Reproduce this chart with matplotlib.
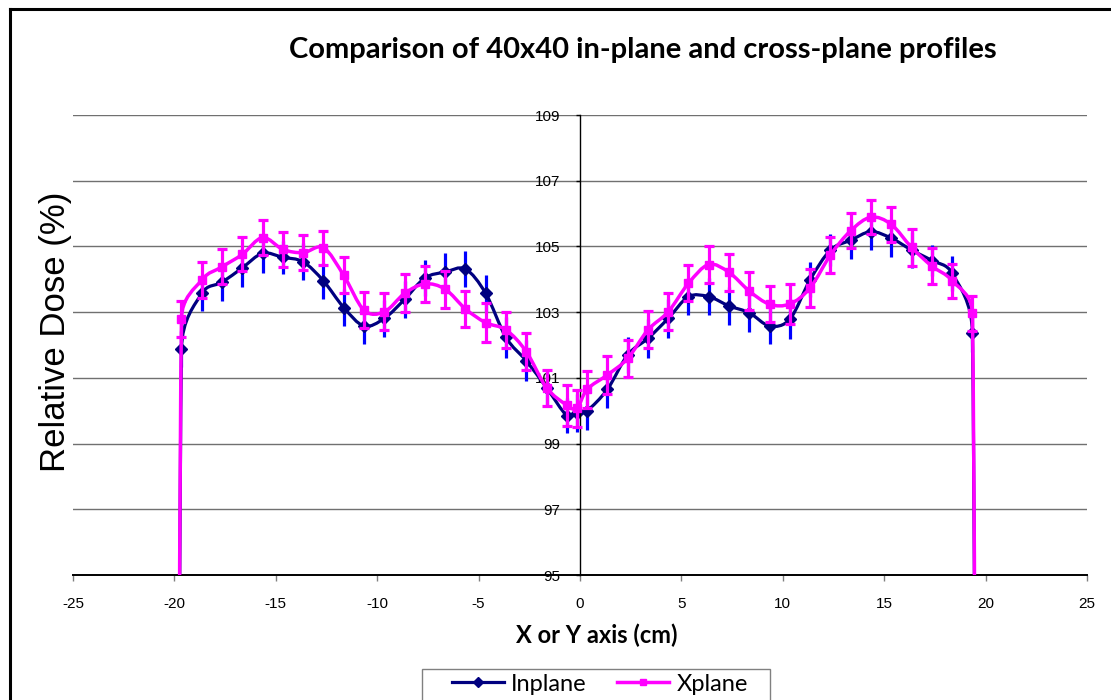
import numpy as np
import matplotlib
matplotlib.use("Agg")
import matplotlib.pyplot as plt
from matplotlib.path import Path
from matplotlib.patches import PathPatch, Rectangle
from matplotlib.lines import Line2D

# positions along the profile (cm)
positions = [-19.65, -18.65, -17.65, -16.65, -15.65, -14.65, -13.65, -12.65, -11.65, -10.65,
             -9.65, -8.65, -7.65, -6.65, -5.65, -4.65, -3.65, -2.65, -1.65, -0.65,
             -0.15,
             0.35, 1.35, 2.35, 3.35, 4.35, 5.35, 6.35, 7.35, 8.35, 9.35,
             10.35, 11.35, 12.35, 13.35, 14.35, 15.35, 16.35, 17.35, 18.35, 19.35]

inplane = [101.88, 103.57, 103.91, 104.35, 104.79, 104.67, 104.53, 103.95, 103.14, 102.58,
           102.81, 103.39, 104.04, 104.22, 104.31, 103.57, 102.23, 101.52, 100.70, 99.85,
           99.92,
           100.00, 100.65, 101.70, 102.20, 102.81, 103.47, 103.47, 103.19, 102.98, 102.58,
           102.79, 103.99, 104.89, 105.19, 105.45, 105.25, 104.89, 104.57, 104.18, 102.36]

xplane = [102.79, 103.98, 104.38, 104.76, 105.27, 104.91, 104.81, 104.96, 104.12, 103.06,
          103.01, 103.57, 103.86, 103.70, 103.10, 102.68, 102.46, 101.80, 100.70, 100.17,
          100.07,
          100.65, 101.09, 101.59, 102.46, 103.01, 103.88, 104.45, 104.21, 103.64, 103.24,
          103.25, 103.74, 104.74, 105.48, 105.89, 105.67, 104.97, 104.40, 103.96, 102.96]

inplane_err = [0.54, 0.53, 0.56, 0.58, 0.59, 0.51, 0.56, 0.54, 0.56, 0.56,
               0.56, 0.56, 0.55, 0.59, 0.55, 0.56, 0.62, 0.62, 0.55, 0.54,
               0.58,
               0.59, 0.56, 0.54, 0.59, 0.59, 0.56, 0.56, 0.58, 0.59, 0.55,
               0.60, 0.54, 0.50, 0.58, 0.56, 0.56, 0.56, 0.48, 0.53, 0.56]

xplane_err = [0.56, 0.54, 0.53, 0.52, 0.52, 0.53, 0.54, 0.52, 0.55, 0.55,
              0.56, 0.58, 0.55, 0.56, 0.55, 0.59, 0.54, 0.57, 0.55, 0.62,
              0.57,
              0.56, 0.58, 0.56, 0.56, 0.56, 0.55, 0.56, 0.57, 0.57, 0.55,
              0.60, 0.57, 0.54, 0.53, 0.52, 0.54, 0.57, 0.55, 0.52, 0.52]

# field edge samples, below the visible range (penumbra)
edge_x = [-19.85, 19.6]
edge_y = [50.0, 50.0]

NAVY = "#000080"
MAGENTA = "#FF00FF"
BLUE = "#0000FF"

W, H = 1111, 700
fig = plt.figure(figsize=(W / 100, H / 100), dpi=100)
ax = fig.add_axes([73 / W, 1 - 575 / H, (1087 - 73) / W, (575 - 115) / H])
xmin, xmax, ymin, ymax = -25, 25, 95, 109
ax.set_xlim(xmin, xmax)
ax.set_ylim(ymin, ymax)

# px per data unit, used for Excel-style smoothing
sx = (1087 - 73) / (xmax - xmin)
sy = (575 - 115) / (ymax - ymin)


def smooth_path(xs, ys):
    # Excel "smoothed line": cubic Bezier with 1/6 tension, arms limited to half segment
    pts = np.column_stack([xs, ys]).astype(float)
    scr = pts * np.array([sx, sy])
    n = len(pts)
    verts = [pts[0]]
    codes = [Path.MOVETO]
    for i in range(n - 1):
        i0 = max(i - 1, 0)
        i3 = min(i + 2, n - 1)
        d02 = np.hypot(*(scr[i + 1] - scr[i0]))
        d12 = np.hypot(*(scr[i + 1] - scr[i]))
        d13 = np.hypot(*(scr[i3] - scr[i]))
        f0 = 1 / 6 if d02 / 6 < d12 / 2 else d12 / d02 / 2
        f1 = 1 / 6 if d13 / 6 < d12 / 2 else d12 / d13 / 2
        c1 = pts[i] + f0 * (pts[i + 1] - pts[i0])
        c2 = pts[i + 1] - f1 * (pts[i3] - pts[i])
        verts += [c1, c2, pts[i + 1]]
        codes += [Path.CURVE4] * 3
    return Path(verts, codes)


def series(y, err, color, marker, ms, lw, z, caps, ecolor):
    xs = [edge_x[0]] + positions + [edge_x[1]]
    ys = [edge_y[0]] + y + [edge_y[1]]
    ax.errorbar(positions, y, yerr=err, fmt="none", ecolor=ecolor, elinewidth=2.3,
                capsize=caps, capthick=2.3, zorder=z)
    ax.add_patch(PathPatch(smooth_path(xs, ys), fill=False, edgecolor=color, lw=lw,
                           zorder=z + 0.1, joinstyle="round", capstyle="round"))
    ax.plot(positions, y, linestyle="none", marker=marker, ms=ms, color=color,
            mec=color, zorder=z + 0.2)


series(inplane, inplane_err, NAVY, "D", 6.5, 2.3, 2, 0, BLUE)
series(xplane, xplane_err, MAGENTA, "s", 5.5, 2.5, 3, 3.8, MAGENTA)

# axes styling
ax.spines["top"].set_visible(False)
ax.spines["right"].set_visible(False)
ax.spines["left"].set_position(("data", 0))
ax.spines["left"].set_linewidth(1.0)
ax.spines["bottom"].set_linewidth(1.4)
ax.set_yticks(np.arange(95, 110, 2))
ax.set_xticks(np.arange(-25, 26, 5))
ax.yaxis.grid(True, color="#707070", linewidth=1.0)
ax.set_axisbelow(True)
tick_font = {"family": "Liberation Sans", "size": 11}
ax.set_xticklabels([str(v) for v in range(-25, 26, 5)], fontdict=tick_font)
ax.set_yticklabels([str(v) for v in range(95, 110, 2)], fontdict=tick_font)
ax.tick_params(axis="x", direction="out", length=4, width=1, color="#808080", pad=12)
ax.tick_params(axis="y", direction="out", length=3, width=1, pad=11)

fig.text(643 / W, 1 - 50 / H, "Comparison of 40x40 in-plane and cross-plane profiles",
         ha="center", va="center", fontsize=21, fontweight="bold", family="Lato")
fig.text(597 / W, 1 - 635 / H, "X or Y axis (cm)", ha="center", va="center",
         fontsize=17, fontweight="bold", family="Lato")
fig.text(55 / W, 1 - 332 / H, "Relative Dose (%)", ha="center", va="center",
         rotation=90, fontsize=25, family="Liberation Sans")

handles = [Line2D([], [], color=NAVY, lw=2.3, marker="D", ms=5),
           Line2D([], [], color=MAGENTA, lw=2.5, marker="s", ms=5)]
leg = fig.legend(handles, ["Inplane", "Xplane"], loc="upper center",
                 bbox_to_anchor=(600 / W, 1 - 669 / H), bbox_transform=fig.transFigure,
                 ncol=2, frameon=False,
                 handlelength=2.2, handletextpad=0.3, columnspacing=1.3,
                 prop={"family": "Lato", "size": 17}, borderpad=0.2, borderaxespad=0)
# legend box, wider than the entries as in the original
fig.add_artist(Rectangle((422 / W, -0.05), (770 - 422) / W, 0.05 + 1 - 669 / H,
                         transform=fig.transFigure, fill=False, edgecolor="#808080",
                         linewidth=1.0))

# chart area border (left and top edges visible)
fig.add_artist(Line2D([10 / W, 10 / W], [0, 1 - 9 / H], color="black", lw=2.2,
                      transform=fig.transFigure))
fig.add_artist(Line2D([10 / W, 1], [1 - 9 / H, 1 - 9 / H], color="black", lw=2.2,
                      transform=fig.transFigure))

fig.savefig("out.png", dpi=100)
